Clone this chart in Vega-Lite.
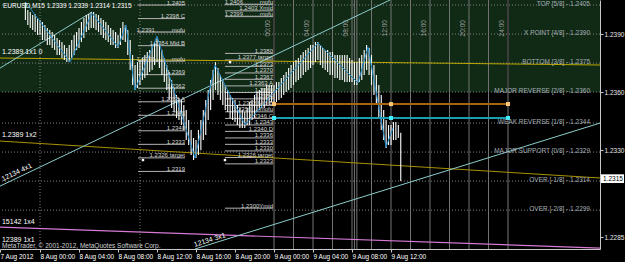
{
"$schema": "https://vega.github.io/schema/vega-lite/v6.json",
"width": 600, "height": 249,
"autosize": {"type": "none"},
"padding": {"left": 0, "top": 0, "right": 25, "bottom": 13},
"background": "#000000",
"config": {"view": {"stroke": null}, "axis": {"grid": false}, "font": "Liberation Sans"},
"data": {"values": [{"a": 1}]},
"datasets": {
"bars": [
{"t":-1.5,"h":1.24066,"l":1.23973},{"t":-1.25,"h":1.24024,"l":1.23947},{"t":-1.0,"h":1.24014,"l":1.23931},{"t":-0.75,"h":1.23998,"l":1.23921},
{"t":-0.5,"h":1.24004,"l":1.23911},{"t":-0.25,"h":1.23983,"l":1.23895},{"t":0,"h":1.23973,"l":1.23895},{"t":0.25,"h":1.23962,"l":1.23869},
{"t":0.5,"h":1.23947,"l":1.23869},{"t":0.75,"h":1.23931,"l":1.23843},{"t":1.0,"h":1.23921,"l":1.23843},{"t":1.25,"h":1.23911,"l":1.23828},
{"t":1.5,"h":1.23895,"l":1.23817},{"t":1.75,"h":1.2388,"l":1.23792},{"t":2.0,"h":1.23869,"l":1.23792},{"t":2.25,"h":1.23859,"l":1.23776},
{"t":2.5,"h":1.23843,"l":1.23766},{"t":2.75,"h":1.23828,"l":1.23755},{"t":3.0,"h":1.23843,"l":1.23755},{"t":3.25,"h":1.23869,"l":1.23776},
{"t":3.5,"h":1.23895,"l":1.23792},{"t":3.75,"h":1.23911,"l":1.23817},{"t":4.0,"h":1.23931,"l":1.23828},{"t":4.25,"h":1.23962,"l":1.23859},
{"t":4.5,"h":1.23983,"l":1.2388},{"t":4.75,"h":1.23998,"l":1.23911},{"t":5.0,"h":1.24004,"l":1.23921},{"t":5.25,"h":1.24014,"l":1.23931},
{"t":5.5,"h":1.24014,"l":1.23931},{"t":5.75,"h":1.24004,"l":1.23921},{"t":6.0,"h":1.23998,"l":1.23911},{"t":6.25,"h":1.23983,"l":1.23895},
{"t":6.5,"h":1.23973,"l":1.2388},{"t":6.75,"h":1.23962,"l":1.23869},{"t":7.0,"h":1.23947,"l":1.23859},{"t":7.25,"h":1.23931,"l":1.23843},
{"t":7.5,"h":1.23921,"l":1.23843},{"t":7.75,"h":1.23911,"l":1.23828},{"t":8.0,"h":1.23895,"l":1.23828},{"t":8.25,"h":1.23931,"l":1.23843},
{"t":8.5,"h":1.23962,"l":1.23869},{"t":8.75,"h":1.23947,"l":1.23859},{"t":9.0,"h":1.23921,"l":1.23792},{"t":9.25,"h":1.23869,"l":1.23714},
{"t":9.5,"h":1.23792,"l":1.23637},{"t":9.75,"h":1.2374,"l":1.23611},{"t":10.0,"h":1.23755,"l":1.23621},{"t":10.25,"h":1.23766,"l":1.23637},
{"t":10.5,"h":1.23776,"l":1.23662},{"t":10.75,"h":1.23792,"l":1.23673},{"t":11.0,"h":1.23807,"l":1.23688},{"t":11.25,"h":1.23817,"l":1.23704},
{"t":11.5,"h":1.23843,"l":1.23714},{"t":11.75,"h":1.23859,"l":1.2374},{"t":12.0,"h":1.2388,"l":1.23755},{"t":12.25,"h":1.23843,"l":1.23724},
{"t":12.5,"h":1.23817,"l":1.23688},{"t":12.75,"h":1.23776,"l":1.23652},{"t":13.0,"h":1.2374,"l":1.23611},{"t":13.25,"h":1.23704,"l":1.23559},
{"t":13.5,"h":1.23662,"l":1.23518},{"t":13.75,"h":1.23621,"l":1.23497},{"t":14.0,"h":1.23585,"l":1.23466},{"t":14.25,"h":1.23569,"l":1.23456},
{"t":14.5,"h":1.23559,"l":1.2343},{"t":14.75,"h":1.23533,"l":1.23404},{"t":15.0,"h":1.23507,"l":1.23352},{"t":15.25,"h":1.23456,"l":1.23326},
{"t":15.5,"h":1.23404,"l":1.23275},{"t":15.75,"h":1.23363,"l":1.23249},{"t":16.0,"h":1.23352,"l":1.23259},{"t":16.25,"h":1.23404,"l":1.23275},
{"t":16.5,"h":1.23456,"l":1.233},{"t":16.75,"h":1.23507,"l":1.23352},{"t":17.0,"h":1.23559,"l":1.23378},{"t":17.25,"h":1.23611,"l":1.23456},
{"t":17.5,"h":1.23662,"l":1.23507},{"t":17.75,"h":1.23714,"l":1.23559},{"t":18.0,"h":1.23755,"l":1.23611},{"t":18.25,"h":1.23724,"l":1.23585},
{"t":18.5,"h":1.23688,"l":1.23559},{"t":18.75,"h":1.23662,"l":1.23533},{"t":19.0,"h":1.23637,"l":1.23507},{"t":19.25,"h":1.23611,"l":1.23497},
{"t":19.5,"h":1.23585,"l":1.23466},{"t":19.75,"h":1.23569,"l":1.23456},{"t":20.0,"h":1.23559,"l":1.23445},{"t":20.25,"h":1.23533,"l":1.2343},
{"t":20.5,"h":1.23518,"l":1.23414},{"t":20.75,"h":1.23507,"l":1.23414},{"t":21.0,"h":1.23497,"l":1.23414},{"t":21.25,"h":1.23518,"l":1.2343},
{"t":21.5,"h":1.23549,"l":1.2343},{"t":21.75,"h":1.23559,"l":1.23456},{"t":22.0,"h":1.23585,"l":1.23466},{"t":22.25,"h":1.236,"l":1.23497},
{"t":22.5,"h":1.23611,"l":1.23507},{"t":22.75,"h":1.23621,"l":1.23518},{"t":23.0,"h":1.23621,"l":1.23518},{"t":23.25,"h":1.23637,"l":1.23533},
{"t":23.5,"h":1.23637,"l":1.23533},{"t":23.75,"h":1.23637,"l":1.23549},{"t":24.0,"h":1.23637,"l":1.23533},{"t":24.25,"h":1.23652,"l":1.23549},
{"t":24.5,"h":1.23652,"l":1.23559},{"t":24.75,"h":1.23673,"l":1.23569},{"t":25.0,"h":1.23688,"l":1.23585},{"t":25.25,"h":1.23704,"l":1.236},
{"t":25.5,"h":1.23724,"l":1.23611},{"t":25.75,"h":1.2374,"l":1.23621},{"t":26.0,"h":1.23755,"l":1.23637},{"t":26.25,"h":1.23766,"l":1.23652},
{"t":26.5,"h":1.23776,"l":1.23662},{"t":26.75,"h":1.23792,"l":1.23673},{"t":27.0,"h":1.23807,"l":1.23688},{"t":27.25,"h":1.23817,"l":1.23704},
{"t":27.5,"h":1.23828,"l":1.23714},{"t":27.75,"h":1.23843,"l":1.23724},{"t":28.0,"h":1.23843,"l":1.2374},{"t":28.25,"h":1.23859,"l":1.23755},
{"t":28.5,"h":1.23859,"l":1.23766},{"t":28.75,"h":1.23843,"l":1.2374},{"t":29.0,"h":1.23828,"l":1.23724},{"t":29.25,"h":1.23817,"l":1.23714},
{"t":29.5,"h":1.23817,"l":1.23704},{"t":29.75,"h":1.23807,"l":1.23688},{"t":30.0,"h":1.23807,"l":1.23688},{"t":30.25,"h":1.23792,"l":1.23673},
{"t":30.5,"h":1.23792,"l":1.23673},{"t":30.75,"h":1.23792,"l":1.23662},{"t":31.0,"h":1.23792,"l":1.23662},{"t":31.25,"h":1.23792,"l":1.23652},
{"t":31.5,"h":1.23792,"l":1.23652},{"t":31.75,"h":1.23776,"l":1.23652},{"t":32.0,"h":1.23766,"l":1.23652},{"t":32.25,"h":1.23755,"l":1.23637},
{"t":32.5,"h":1.23755,"l":1.23637},{"t":32.75,"h":1.23776,"l":1.23652},{"t":33.0,"h":1.23792,"l":1.23662},{"t":33.25,"h":1.23817,"l":1.23688},
{"t":33.5,"h":1.23843,"l":1.23714},{"t":33.75,"h":1.23828,"l":1.23688},{"t":34.0,"h":1.23792,"l":1.23637},{"t":34.25,"h":1.2374,"l":1.23585},
{"t":34.5,"h":1.23688,"l":1.23533},{"t":34.75,"h":1.23637,"l":1.23466},{"t":35.0,"h":1.23585,"l":1.23404},{"t":35.25,"h":1.23507,"l":1.23352},
{"t":35.5,"h":1.23456,"l":1.23311},{"t":35.75,"h":1.2343,"l":1.23326},{"t":36.0,"h":1.2343,"l":1.23326},{"t":36.25,"h":1.23445,"l":1.23352},
{"t":36.5,"h":1.23445,"l":1.23352},{"t":36.75,"h":1.2343,"l":1.23363},{"t":37.0,"h":1.2339,"l":1.2314}
],
"zz": [
{"t":-1.5,"p":1.24066},{"t":3.08,"p":1.23755},{"t":5.33,"p":1.24009},{"t":8.0,"p":1.23833},{"t":8.82,"p":1.23947},
{"t":9.74,"p":1.23611},{"t":12.0,"p":1.2389},{"t":15.9,"p":1.23259},{"t":17.95,"p":1.2374},{"t":21.03,"p":1.2343},
{"t":28.51,"p":1.23854},{"t":32.62,"p":1.23647},{"t":33.64,"p":1.23833},{"t":35.49,"p":1.23316},{"t":36.2,"p":1.23414}
],
"gann": [
{"id":"y0","t":-4.103,"p":1.23776},{"id":"y0","t":57.436,"p":1.2374},
{"id":"y2","t":-4.103,"p":1.23347},{"id":"y2","t":57.436,"p":1.23156},
{"id":"m4","t":-4.103,"p":1.22902},{"id":"m4","t":57.436,"p":1.22794},
{"id":"tA","t":-4.103,"p":1.23114},{"id":"tA","t":35.9,"p":1.24076},
{"id":"tB","t":15.9,"p":1.22789},{"id":"tB","t":57.436,"p":1.2344},
{"id":"tC","t":-4.103,"p":1.23724},{"id":"tC","t":5.333,"p":1.24014}
],
"murrey": [
{"p":1.2405,"label":"TOP [5/8] - 1.2405"},{"p":1.239,"label":"X POINT [4/8] - 1.2390"},
{"p":1.2375,"label":"BOTTOM [3/8] - 1.2375"},{"p":1.236,"label":"MAJOR REVERSE [2/8] - 1.2360"},
{"p":1.2344,"label":"WEAK REVERSE [1/8] - 1.2344"},{"p":1.2329,"label":"MAJOR SUPPORT [0/8] - 1.2329"},
{"p":1.2314,"label":"OVER [-1/8] - 1.2314"},{"p":1.2299,"label":"OVER [-2/8] - 1.2299"}
],
"vgrid": [{"t":0},{"t":10.26}],
"vlines": [
{"t":24,"k":"dark"},{"t":26,"k":"light"},{"t":28,"k":"light"},{"t":30,"k":"light"},{"t":32,"k":"light"},{"t":32.25,"k":"light"},{"t":32.5,"k":"light"},
{"t":34,"k":"light"},{"t":36,"k":"light"},{"t":38,"k":"light"},{"t":40,"k":"light"},{"t":42,"k":"light"},{"t":44,"k":"light"},{"t":46,"k":"light"},{"t":48,"k":"dark"}
],
"vlabels": [
{"t":24,"label":"00:00"},{"t":28,"label":"04:00"},{"t":32,"label":"08:00"},{"t":36,"label":"12:00"},
{"t":40,"label":"16:00"},{"t":44,"label":"20:00"},{"t":48,"label":"24:00"}
],
"fibA": [
{"p":1.2405,"label":"1.2405"},{"p":1.2398,"label":"1.2398 C"},{"p":1.2391,"label":"1.2391..........mofu"},
{"p":1.2384,"label":"1.2384 Mid B"},{"p":1.2376,"label":"1.2376..........mofu"},{"p":1.2369,"label":"1.2369"},
{"p":1.2362,"label":"1.2362"},{"p":1.2355,"label":"1.2355 A"},{"p":1.2348,"label":"1.2348"},
{"p":1.234,"label":"1.2340"},{"p":1.2333,"label":"1.2333"},{"p":1.2326,"label":"1.2326 target"},{"p":1.2319,"label":"1.2319"}
],
"fibB": [
{"p":1.24052,"label":"1.2406..........mofu"},{"p":1.2402,"label":"1.2403 Xmid"},{"p":1.2399,"label":"1.2399..........mofu"},
{"p":1.238,"label":"1.2380"},{"p":1.23766,"label":"1.2377 target"},{"p":1.23733,"label":"1.2373"},{"p":1.23699,"label":"1.2370"},
{"p":1.23666,"label":"1.2367"},{"p":1.23632,"label":"1.2363 A"},{"p":1.23598,"label":"1.2360"},{"p":1.23565,"label":"1.2356"},
{"p":1.23531,"label":"1.2353 Mid B"},{"p":1.23498,"label":"1.2350.....mofu"},{"p":1.23464,"label":"1.2346 C"},{"p":1.2343,"label":"1.2343"},
{"p":1.23397,"label":"1.2340 D"},{"p":1.23363,"label":"1.2336"},{"p":1.2333,"label":"1.2333"},{"p":1.23296,"label":"1.2330"},
{"p":1.23262,"label":"1.2326 target"},{"p":1.23229,"label":"1.2323"},{"p":1.23,"label":"1.2300Ymid"}
],
"hl": [{"id":"orange","p":1.23538,"t1":24,"t2":48},{"id":"cyan","p":1.23466,"t1":24,"t2":48}],
"marks": [
{"id":"orange","t":24,"p":1.23538},{"id":"orange","t":36,"p":1.23538},{"id":"orange","t":48,"p":1.23538},
{"id":"cyan","t":24,"p":1.23466},{"id":"cyan","t":36,"p":1.23466},{"id":"cyan","t":48,"p":1.23466}
],
"dots": [{"t":10.56,"p":1.23249},{"t":18.97,"p":1.23249},{"t":19.49,"p":1.23755}],
"gtext": [
{"t":-3.9,"p":1.23807,"txt":"1.2389 1x1 0"},{"t":-3.9,"p":1.23378,"txt":"1.2389 1x2"},
{"t":-3.9,"p":1.22928,"txt":"15142 1x4"},{"t":-3.9,"p":1.22835,"txt":"12389 1x1"}
]
},
"layer": [
{"mark": {"type": "rect", "color": "#112a16"},
 "encoding": {"x": {"datum": -4.103, "type": "quantitative", "scale": {"domain": [-4.103, 57.436], "nice": false, "zero": false}},
  "x2": {"datum": 57.436},
  "y": {"datum": 1.236, "type": "quantitative", "scale": {"domain": [1.22789, 1.24076], "nice": false, "zero": false}},
  "y2": {"datum": 1.24076}}},
{"data": {"name": "murrey"}, "mark": {"type": "rule", "color": "#808080", "strokeDash": [1, 2]},
 "encoding": {"y": {"field": "p", "type": "quantitative"}}},
{"data": {"name": "vgrid"}, "mark": {"type": "rule", "color": "#808080", "strokeDash": [1, 2]},
 "encoding": {"x": {"field": "t", "type": "quantitative"}}},
{"data": {"name": "vlines"}, "transform": [{"filter": "datum.k == 'light'"}], "mark": {"type": "rule", "color": "#747474", "strokeWidth": 1},
 "encoding": {"x": {"field": "t", "type": "quantitative"}}},
{"data": {"name": "vlines"}, "transform": [{"filter": "datum.k == 'dark'"}], "mark": {"type": "rule", "color": "#3c3c3c", "strokeWidth": 2},
 "encoding": {"x": {"field": "t", "type": "quantitative"}}},
{"data": {"name": "fibA"}, "mark": {"type": "rule", "color": "#b4b4b4"},
 "encoding": {"x": {"datum": 10.05, "type": "quantitative"}, "x2": {"datum": 14.87}, "y": {"field": "p", "type": "quantitative"}}},
{"data": {"name": "fibB"}, "mark": {"type": "rule", "color": "#b4b4b4"},
 "encoding": {"x": {"datum": 18.97, "type": "quantitative"}, "x2": {"datum": 23.9}, "y": {"field": "p", "type": "quantitative"}}},
{"data": {"name": "gann"}, "transform": [{"filter": "datum.id == 'y0'"}], "mark": {"type": "line", "strokeWidth": 1, "color": "#bca600"},
 "encoding": {"x": {"field": "t", "type": "quantitative"}, "y": {"field": "p", "type": "quantitative"}}},
{"data": {"name": "gann"}, "transform": [{"filter": "datum.id == 'y2'"}], "mark": {"type": "line", "strokeWidth": 1, "color": "#a89200"},
 "encoding": {"x": {"field": "t", "type": "quantitative"}, "y": {"field": "p", "type": "quantitative"}}},
{"data": {"name": "gann"}, "transform": [{"filter": "datum.id == 'm4'"}], "mark": {"type": "line", "strokeWidth": 1.2, "color": "#d67ad6"},
 "encoding": {"x": {"field": "t", "type": "quantitative"}, "y": {"field": "p", "type": "quantitative"}}},
{"data": {"name": "gann"}, "transform": [{"filter": "datum.id == 'tA' || datum.id == 'tB' || datum.id == 'tC'"}], "mark": {"type": "line", "strokeWidth": 1, "color": "#8ccccc"},
 "encoding": {"x": {"field": "t", "type": "quantitative"}, "y": {"field": "p", "type": "quantitative"}, "detail": {"field": "id"}}},
{"data": {"name": "bars"}, "mark": {"type": "rule", "color": "#ffffff", "stroke": "#ffffff", "strokeWidth": 1.1, "opacity": 1},
 "encoding": {
  "x": {"field": "t", "type": "quantitative", "scale": {"domain": [-4.103, 57.436], "nice": false, "zero": false},
   "axis": {"title": null, "values": [-4.103, 0, 4, 8, 12, 16, 20, 24, 28, 32, 36],
    "labelExpr": "datum.value < 0 ? '7 Aug 2012' : (datum.value < 24 ? '8 Aug ' : '9 Aug ') + (datum.value % 24 < 10 ? '0' : '') + (datum.value % 24) + ':00'",
    "labelAlign": "left", "labelColor": "#ffffff", "labelFontSize": 6.5, "labelPadding": 1, "labelFlush": false, "labelOverlap": false,
    "tickColor": "#c8c8c8", "tickSize": 3, "domainColor": "#c8c8c8", "grid": false}},
  "y": {"field": "h", "type": "quantitative", "scale": {"domain": [1.22789, 1.24076], "nice": false, "zero": false},
   "axis": {"title": null, "orient": "right", "values": [1.2405, 1.239, 1.2375, 1.236, 1.2345, 1.233, 1.23, 1.2285], "format": ".4f",
    "labelColor": "#e8e8e8", "labelFontSize": 6.5, "labelPadding": 1, "labelFlush": false, "labelOverlap": false,
    "tickColor": "#c8c8c8", "tickSize": 3, "domainColor": "#c8c8c8", "grid": false}},
  "y2": {"field": "l"}}},
{"data": {"name": "zz"}, "mark": {"type": "line", "color": "#1f86c4", "strokeWidth": 1},
 "encoding": {"x": {"field": "t", "type": "quantitative"}, "y": {"field": "p", "type": "quantitative"}}},
{"data": {"name": "fibA"}, "mark": {"type": "text", "align": "right", "baseline": "bottom", "dy": 0.5, "fontSize": 6, "color": "#d4d4d4"},
 "encoding": {"x": {"datum": 14.87, "type": "quantitative"}, "y": {"field": "p", "type": "quantitative"}, "text": {"field": "label"}}},
{"data": {"name": "fibB"}, "mark": {"type": "text", "align": "right", "baseline": "bottom", "dy": 0.5, "fontSize": 6, "color": "#d4d4d4"},
 "encoding": {"x": {"datum": 23.9, "type": "quantitative"}, "y": {"field": "p", "type": "quantitative"}, "text": {"field": "label"}}},
{"data": {"name": "hl"}, "transform": [{"filter": "datum.id == 'orange'"}], "mark": {"type": "rule", "strokeWidth": 2, "color": "#a8640e"},
 "encoding": {"x": {"field": "t1", "type": "quantitative"}, "x2": {"field": "t2"}, "y": {"field": "p", "type": "quantitative"}}},
{"data": {"name": "hl"}, "transform": [{"filter": "datum.id == 'cyan'"}], "mark": {"type": "rule", "strokeWidth": 2, "color": "#1c9cb0"},
 "encoding": {"x": {"field": "t1", "type": "quantitative"}, "x2": {"field": "t2"}, "y": {"field": "p", "type": "quantitative"}}},
{"data": {"name": "marks"}, "transform": [{"filter": "datum.id == 'orange'"}], "mark": {"type": "point", "shape": "square", "filled": true, "size": 16, "opacity": 1, "color": "#ffc878"},
 "encoding": {"x": {"field": "t", "type": "quantitative"}, "y": {"field": "p", "type": "quantitative"}}},
{"data": {"name": "marks"}, "transform": [{"filter": "datum.id == 'cyan'"}], "mark": {"type": "point", "shape": "square", "filled": true, "size": 16, "opacity": 1, "color": "#40f0ff"},
 "encoding": {"x": {"field": "t", "type": "quantitative"}, "y": {"field": "p", "type": "quantitative"}}},
{"data": {"name": "dots"}, "mark": {"type": "point", "shape": "square", "filled": true, "size": 6, "color": "#ffffff", "opacity": 1},
 "encoding": {"x": {"field": "t", "type": "quantitative"}, "y": {"field": "p", "type": "quantitative"}}},
{"data": {"name": "murrey"}, "mark": {"type": "text", "align": "right", "baseline": "middle", "dy": -1.5, "fontSize": 6.5, "color": "#a4acb4"},
 "encoding": {"x": {"datum": 56.41, "type": "quantitative"}, "y": {"field": "p", "type": "quantitative"}, "text": {"field": "label"}}},
{"data": {"name": "vlabels"}, "mark": {"type": "text", "align": "center", "baseline": "middle", "angle": 270, "xOffset": -6, "fontSize": 6.5, "color": "#a0a0a0"},
 "encoding": {"x": {"field": "t", "type": "quantitative"}, "y": {"datum": 1.2393, "type": "quantitative"}, "text": {"field": "label"}}},
{"data": {"name": "gtext"}, "mark": {"type": "text", "align": "left", "baseline": "middle", "fontSize": 7, "color": "#ffffff"},
 "encoding": {"x": {"field": "t", "type": "quantitative"}, "y": {"field": "p", "type": "quantitative"}, "text": {"field": "txt"}}},
{"data": {"values": [{"t": -3.75, "p": 1.23135, "txt": "12134 4x1"}]},
 "mark": {"type": "text", "align": "left", "baseline": "bottom", "angle": -25.5, "fontSize": 7, "color": "#ffffff"},
 "encoding": {"x": {"field": "t", "type": "quantitative"}, "y": {"field": "p", "type": "quantitative"}, "text": {"field": "txt"}}},
{"data": {"values": [{"t": 15.9, "p": 1.22795, "txt": "12134 3x1"}]},
 "mark": {"type": "text", "align": "left", "baseline": "bottom", "angle": -17.4, "fontSize": 7, "color": "#ffffff"},
 "encoding": {"x": {"field": "t", "type": "quantitative"}, "y": {"field": "p", "type": "quantitative"}, "text": {"field": "txt"}}},
{"data": {"values": [{"t": -3.8, "p": 1.24045, "txt": "EURUSD,M15  1.2339 1.2339 1.2314 1.2315"}]},
 "mark": {"type": "text", "align": "left", "baseline": "middle", "fontSize": 6.5, "color": "#ffffff"},
 "encoding": {"x": {"field": "t", "type": "quantitative"}, "y": {"field": "p", "type": "quantitative"}, "text": {"field": "txt"}}},
{"data": {"values": [{"t": -3.9, "p": 1.22805, "txt": "MetaTrader, © 2001-2012, MetaQuotes Software Corp."}]},
 "mark": {"type": "text", "align": "left", "baseline": "middle", "fontSize": 6.5, "color": "#d0d0d0"},
 "encoding": {"x": {"field": "t", "type": "quantitative"}, "y": {"field": "p", "type": "quantitative"}, "text": {"field": "txt"}}},
{"mark": {"type": "rect", "color": "#ffffff"},
 "encoding": {"x": {"datum": 57.54, "type": "quantitative"}, "x2": {"datum": 59.9}, "y": {"datum": 1.23175, "type": "quantitative"}, "y2": {"datum": 1.2313}}},
{"mark": {"type": "text", "align": "left", "baseline": "middle", "fontSize": 6.5, "color": "#000000"},
 "encoding": {"x": {"datum": 57.75, "type": "quantitative"}, "y": {"datum": 1.23152, "type": "quantitative"}, "text": {"value": "1.2315"}}}
]
}
